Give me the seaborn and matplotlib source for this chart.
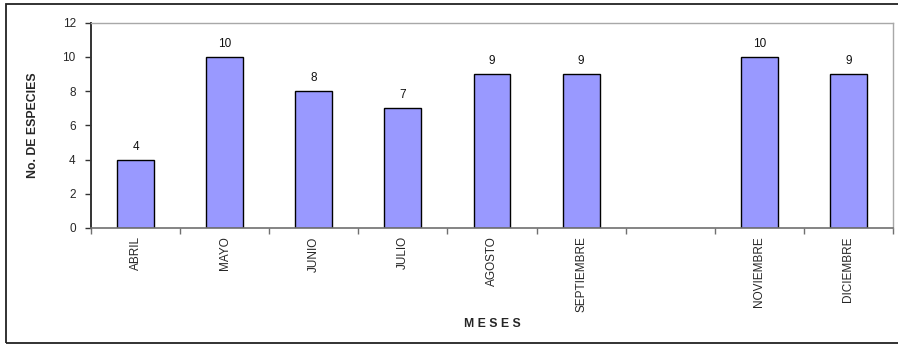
import numpy as np
import pandas as pd
import matplotlib
matplotlib.use("Agg")
import matplotlib.pyplot as plt
from matplotlib.patches import Rectangle
import seaborn as sns

# Monthly species counts (no sampling in October)
meses = ["ABRIL", "MAYO", "JUNIO", "JULIO", "AGOSTO", "SEPTIEMBRE",
         "OCTUBRE", "NOVIEMBRE", "DICIEMBRE"]
etiquetas = ["ABRIL", "MAYO", "JUNIO", "JULIO", "AGOSTO", "SEPTIEMBRE",
             "", "NOVIEMBRE", "DICIEMBRE"]
especies = [4, 10, 8, 7, 9, 9, np.nan, 10, 9]
yticks = [0, 2, 4, 6, 8, 10, 12]

sns.set_theme(style="white")
plt.rcParams["font.family"] = ["Liberation Sans", "DejaVu Sans"]

FS = 8.5

df = pd.DataFrame({"mes": meses, "especies": especies})

fig = plt.figure(figsize=(8.98, 3.45), dpi=100)
ax = fig.add_axes([91 / 898, 1 - 228 / 345, (893 - 91) / 898, (228 - 22.5) / 345])

sns.barplot(data=df, x="mes", y="especies", order=meses, color="#9999FF",
            saturation=1, width=0.415, edgecolor="black", linewidth=1.0, ax=ax)

for cont in ax.containers:
    ax.bar_label(cont, fmt="%d", padding=5, fontsize=FS, color="#111111")

ax.set_xlim(-0.5, len(meses) - 0.5)
ax.set_ylim(0, 12)
ax.set_yticks(yticks)
ax.set_yticklabels([str(v) for v in yticks], fontsize=FS)
ax.set_xticks(np.arange(len(meses)))
ax.set_xticklabels(etiquetas, rotation=90, fontsize=FS, va="top")
ax.set_xticks(np.arange(len(meses) + 1) - 0.5, minor=True)

ax.tick_params(axis="x", which="major", length=0, pad=6)
ax.tick_params(axis="x", which="minor", length=4, width=1, color="#707070",
               direction="out", bottom=True)
ax.tick_params(axis="y", length=4, width=1, color="#333333", direction="out",
               left=True, pad=7)

ax.spines["left"].set_color("#333333")
ax.spines["left"].set_linewidth(1.4)
ax.spines["bottom"].set_color("#707070")
ax.spines["bottom"].set_linewidth(1.2)
for s in ("top", "right"):
    ax.spines[s].set_color("#A8A8A8")
    ax.spines[s].set_linewidth(1.0)

ax.set_xlabel("")
ax.set_ylabel("")
fig.text(33 / 898, 1 - 125 / 345, "No. DE ESPECIES", rotation=90, ha="center",
         va="center", fontsize=8.8, fontweight="bold")
fig.text(492 / 898, 1 - 324 / 345, "M E S E S", ha="center", va="center",
         fontsize=8.8, fontweight="bold")

# Outer chart frame
fig.patches.append(Rectangle((6 / 898, 2 / 345), 1.0, 1 - 6 / 345,
                             transform=fig.transFigure, fill=False,
                             edgecolor="#222222", linewidth=1.3))

fig.savefig("out.png", dpi=100)
